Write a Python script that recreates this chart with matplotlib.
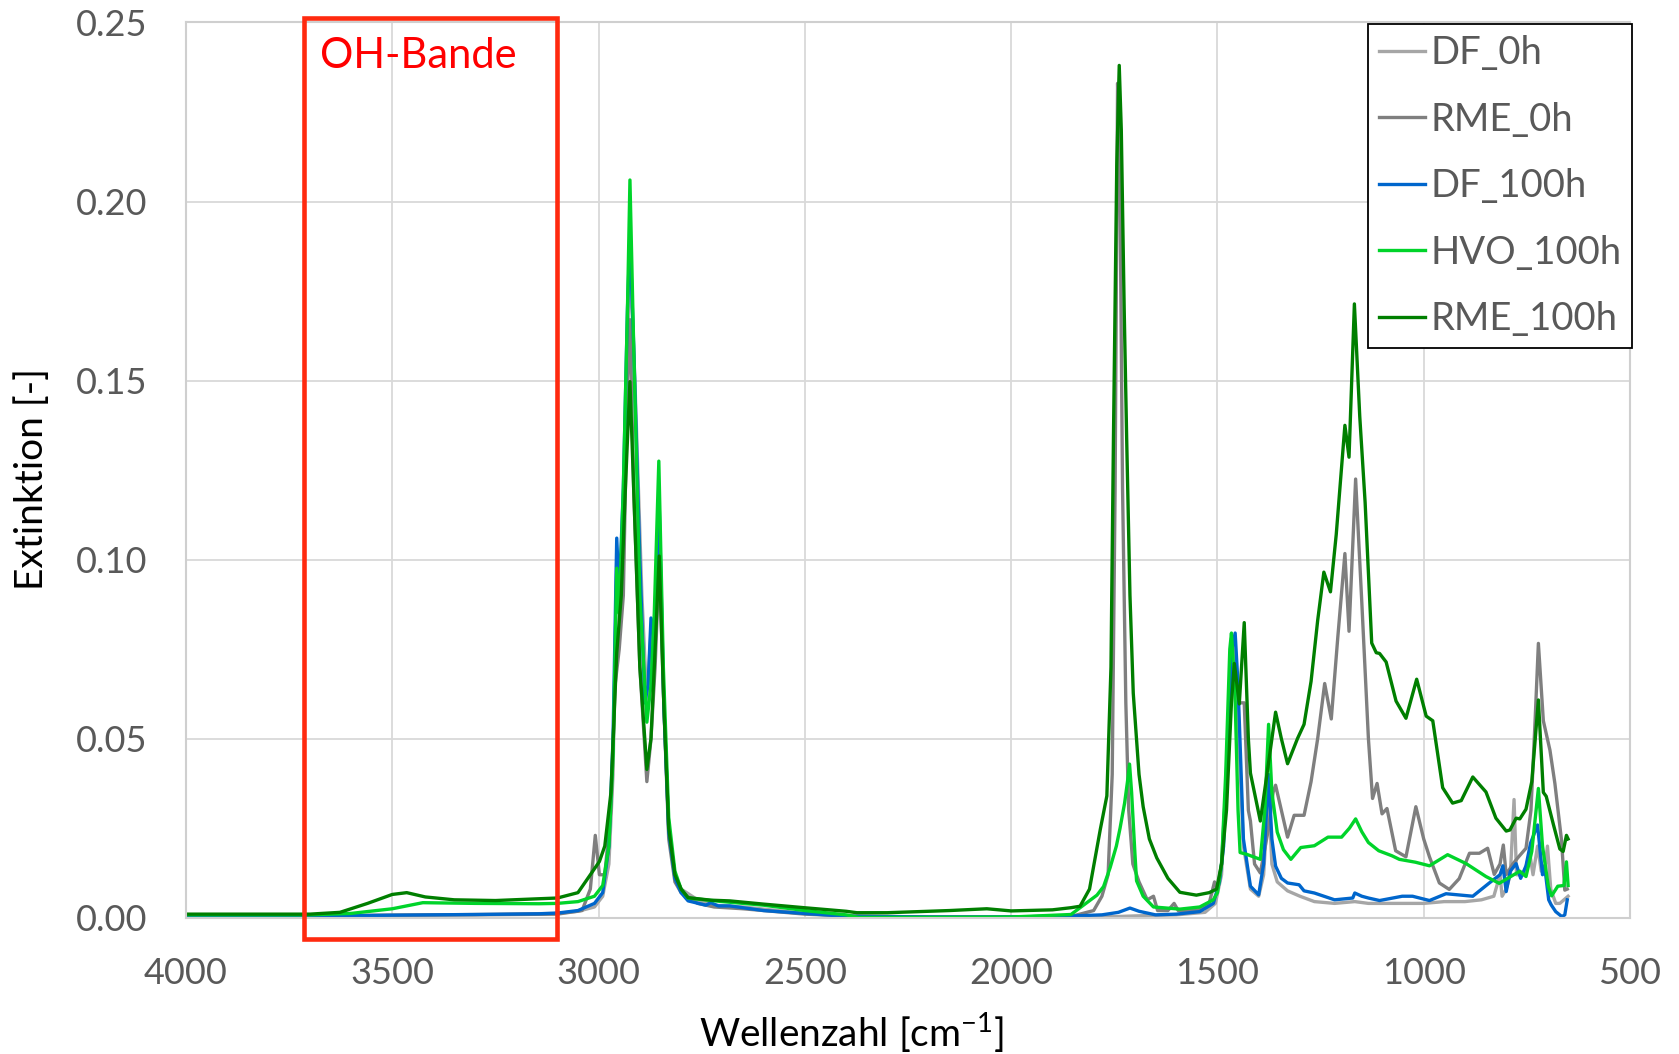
import matplotlib
matplotlib.use("Agg")
import matplotlib.pyplot as plt
from matplotlib.patches import Rectangle

plt.rcParams['font.family'] = ['Lato', 'DejaVu Sans']
plt.rcParams['mathtext.fontset'] = 'custom'
plt.rcParams['mathtext.rm'] = 'Lato'

# spectra: wavenumber [cm-1] and extinction [-]
df0_wn = [4000, 3700, 3500, 3300, 3100, 3050, 3010, 2990, 2975, 2965, 2956, 2948, 2938, 2924, 2912,
          2895, 2883, 2873, 2866, 2853, 2842, 2830, 2815, 2800, 2760, 2720, 2650, 2500, 2400, 2200,
          2000, 1850, 1750, 1700, 1600, 1530, 1505, 1490, 1478, 1466, 1458, 1448, 1437, 1420, 1400,
          1388, 1376, 1368, 1355, 1330, 1300, 1265, 1216, 1167, 1134, 1052, 1000, 950, 900, 860,
          830, 815, 810, 800, 790, 781, 775, 760, 755, 743, 735, 724, 715, 705, 700, 692, 680,
          670, 660, 650]
df0_val = [0.0005, 0.0005, 0.0007, 0.0009, 0.0012, 0.0018, 0.003, 0.006, 0.015, 0.04, 0.100, 0.085,
           0.12, 0.185, 0.15, 0.09, 0.06, 0.08, 0.07, 0.11, 0.06, 0.025, 0.012, 0.008, 0.005, 0.0035,
           0.003, 0.0012, 0.0005, 0.0002, 0.0002, 0.0003, 0.0003, 0.0005, 0.0008, 0.0015, 0.004,
           0.012, 0.04, 0.078, 0.075, 0.05, 0.02, 0.008, 0.006, 0.012, 0.035, 0.015, 0.01, 0.0075,
           0.006, 0.0045, 0.004, 0.0045, 0.004, 0.004, 0.004, 0.0045, 0.0045, 0.005, 0.006, 0.012,
           0.006, 0.008, 0.012, 0.033, 0.012, 0.012, 0.013, 0.018, 0.012, 0.02, 0.013, 0.015, 0.02,
           0.008, 0.004, 0.004, 0.005, 0.006]

rme0_wn = [4000, 3700, 3500, 3300, 3100, 3040, 3020, 3008, 2998, 2985, 2970, 2960, 2950, 2940, 2930,
           2924, 2915, 2900, 2883, 2873, 2863, 2853, 2842, 2830, 2815, 2800, 2760, 2720, 2650, 2500,
           2400, 2200, 2000, 1850, 1800, 1780, 1765, 1755, 1748, 1742, 1736, 1730, 1722, 1715, 1705,
           1690, 1670, 1655, 1645, 1620, 1605, 1595, 1550, 1520, 1507, 1500, 1490, 1478, 1466, 1457,
           1447, 1435, 1425, 1420, 1410, 1396, 1376, 1365, 1359, 1345, 1330, 1314, 1290, 1273, 1257,
           1240, 1224, 1208, 1191, 1181, 1165, 1150, 1134, 1124, 1113, 1101, 1089, 1068, 1043, 1019,
           1000, 986, 962, 938, 914, 889, 865, 845, 829, 815, 807, 800, 784, 770, 752, 740, 730, 722,
           710, 694, 682, 666, 658, 652]
rme0_val = [0.0005, 0.0005, 0.0007, 0.0008, 0.001, 0.002, 0.008, 0.023, 0.012, 0.012, 0.03, 0.065,
            0.075, 0.09, 0.15, 0.167, 0.12, 0.07, 0.038, 0.05, 0.07, 0.10, 0.06, 0.022, 0.01, 0.007,
            0.004, 0.003, 0.0025, 0.001, 0.0005, 0.0002, 0.0002, 0.0005, 0.002, 0.006, 0.012, 0.04,
            0.12, 0.233, 0.2, 0.12, 0.06, 0.03, 0.015, 0.01, 0.005, 0.006, 0.002, 0.002, 0.004, 0.002,
            0.002, 0.004, 0.01, 0.008, 0.015, 0.04, 0.065, 0.07, 0.06, 0.06, 0.03, 0.027, 0.015,
            0.0125, 0.025, 0.035, 0.037, 0.03, 0.0225, 0.0286, 0.0286, 0.038, 0.05, 0.0654, 0.0555,
            0.0786, 0.1017, 0.08, 0.1225, 0.088, 0.05, 0.0333, 0.0375, 0.029, 0.0305, 0.0187, 0.017,
            0.031, 0.022, 0.017, 0.0097, 0.0079, 0.0109, 0.018, 0.018, 0.0194, 0.0121, 0.015, 0.0203,
            0.012, 0.015, 0.017, 0.0194, 0.03, 0.055, 0.0766, 0.055, 0.0468, 0.0375, 0.0217, 0.0077,
            0.008]

df100_wn = [4000, 3700, 3500, 3300, 3144, 3100, 3050, 3010, 2990, 2975, 2965, 2956, 2950, 2940, 2930,
            2924, 2915, 2900, 2888, 2880, 2873, 2865, 2853, 2842, 2830, 2815, 2800, 2783, 2740, 2728,
            2710, 2682, 2600, 2502, 2400, 2200, 2000, 1850, 1780, 1740, 1712, 1690, 1650, 1600, 1543,
            1510, 1495, 1485, 1475, 1465, 1457, 1450, 1437, 1420, 1400, 1388, 1376, 1368, 1359, 1345,
            1330, 1302, 1290, 1265, 1216, 1172, 1167, 1150, 1134, 1107, 1052, 1027, 986, 946, 881, 841,
            815, 808, 800, 790, 776, 765, 752, 741, 724, 712, 707, 697, 691, 680, 665, 658, 652]
df100_val = [0.0003, 0.0004, 0.0007, 0.0009, 0.0011, 0.0013, 0.002, 0.004, 0.007, 0.02, 0.05, 0.106,
             0.09, 0.12, 0.17, 0.19, 0.16, 0.1, 0.06, 0.065, 0.0837, 0.08, 0.115, 0.06, 0.024, 0.011,
             0.007, 0.0047, 0.0035, 0.0042, 0.0033, 0.0033, 0.002, 0.0012, 0.0004, 0.0002, 0.0002,
             0.0005, 0.0008, 0.0015, 0.0027, 0.0018, 0.0008, 0.001, 0.0017, 0.004, 0.01, 0.02, 0.05,
             0.075, 0.0795, 0.065, 0.022, 0.0088, 0.0064, 0.015, 0.04, 0.022, 0.0144, 0.011, 0.0097,
             0.0092, 0.0075, 0.0069, 0.005, 0.0055, 0.0069, 0.006, 0.0055, 0.0048, 0.006, 0.006, 0.0048,
             0.0067, 0.006, 0.0097, 0.012, 0.0145, 0.0073, 0.013, 0.0151, 0.011, 0.0145, 0.0208, 0.0259,
             0.012, 0.0145, 0.005, 0.0036, 0.0017, 0.0003, 0.0008, 0.005]

hvo_wn = [4000, 3700, 3600, 3500, 3426, 3300, 3144, 3100, 3050, 3010, 2990, 2975, 2965, 2956, 2950,
          2940, 2930, 2924, 2915, 2900, 2883, 2873, 2865, 2854, 2843, 2830, 2815, 2800, 2783, 2700,
          2600, 2500, 2400, 2370, 2200, 2000, 1855, 1792, 1776, 1760, 1745, 1736, 1725, 1718, 1713,
          1708, 1700, 1696, 1680, 1655, 1591, 1543, 1510, 1500, 1490, 1480, 1470, 1466, 1458, 1450,
          1445, 1429, 1396, 1385, 1376, 1368, 1355, 1340, 1322, 1298, 1265, 1232, 1199, 1180, 1165,
          1150, 1134, 1109, 1077, 1059, 1020, 986, 942, 897, 849, 817, 767, 752, 738, 722, 712, 698,
          690, 675, 660, 654, 650]
hvo_val = [0.0008, 0.0008, 0.0012, 0.0025, 0.0042, 0.0040, 0.0039, 0.004, 0.0045, 0.006, 0.009, 0.02,
           0.045, 0.0976, 0.085, 0.12, 0.17, 0.206, 0.16, 0.09, 0.0546, 0.065, 0.085, 0.1275, 0.07,
           0.028, 0.013, 0.008, 0.0055, 0.0045, 0.0035, 0.002, 0.0008, 0.0001, 0.0001, 0.0002, 0.0009,
           0.0063, 0.0087, 0.014, 0.02, 0.025, 0.032, 0.038, 0.0429, 0.035, 0.018, 0.0103, 0.006,
           0.003, 0.0024, 0.003, 0.005, 0.007, 0.015, 0.04, 0.075, 0.0795, 0.065, 0.03, 0.0182,
           0.0177, 0.0163, 0.03, 0.054, 0.035, 0.0239, 0.019, 0.0163, 0.0196, 0.0201, 0.0225, 0.0225,
           0.025, 0.0276, 0.024, 0.021, 0.0187, 0.0173, 0.0163, 0.0155, 0.0145, 0.0176, 0.0151,
           0.0115, 0.0096, 0.013, 0.0115, 0.0185, 0.0361, 0.02, 0.0088, 0.0061, 0.0088, 0.009, 0.0156,
           0.009]

rme100_wn = [4000, 3800, 3700, 3627, 3560, 3500, 3465, 3420, 3350, 3250, 3144, 3100, 3050, 3020, 2998,
             2985, 2970, 2956, 2945, 2935, 2924, 2915, 2900, 2883, 2873, 2863, 2853, 2842, 2830, 2815,
             2800, 2783, 2728, 2682, 2600, 2502, 2400, 2374, 2300, 2150, 2059, 2000, 1900, 1855, 1833,
             1810, 1784, 1768, 1758, 1752, 1744, 1738, 1733, 1726, 1720, 1712, 1704, 1690, 1680, 1665,
             1647, 1620, 1591, 1551, 1520, 1502, 1490, 1478, 1466, 1459, 1447, 1435, 1425, 1420, 1396,
             1380, 1359, 1345, 1330, 1306, 1290, 1273, 1257, 1242, 1226, 1212, 1191, 1181, 1168, 1155,
             1142, 1126, 1115, 1107, 1091, 1067, 1043, 1017, 994, 978, 954, 930, 909, 881, 849, 825,
             800, 791, 776, 767, 752, 738, 722, 710, 703, 686, 670, 662, 654, 650]
rme100_val = [0.0010, 0.0010, 0.0010, 0.0015, 0.004, 0.0065, 0.007, 0.0058, 0.005, 0.0048, 0.0053,
              0.0055, 0.007, 0.012, 0.0157, 0.02, 0.035, 0.074, 0.09, 0.12, 0.1497, 0.12, 0.07, 0.0414,
              0.05, 0.075, 0.101, 0.06, 0.025, 0.012, 0.008, 0.0056, 0.0049, 0.0047, 0.0038, 0.0028,
              0.0018, 0.0014, 0.0014, 0.002, 0.0025, 0.0019, 0.0022, 0.0028, 0.0032, 0.008, 0.0246,
              0.034, 0.07, 0.134, 0.21, 0.238, 0.22, 0.17, 0.134, 0.09, 0.0627, 0.04, 0.031, 0.022,
              0.0167, 0.011, 0.0071, 0.0063, 0.007, 0.008, 0.015, 0.03, 0.06, 0.071, 0.0597, 0.0824,
              0.05, 0.0404, 0.027, 0.04, 0.0574, 0.05, 0.043, 0.050, 0.054, 0.066, 0.083, 0.0965, 0.091,
              0.107, 0.1375, 0.1286, 0.1714, 0.14, 0.116, 0.0767, 0.074, 0.0738, 0.0714, 0.0605, 0.0557,
              0.0666, 0.0563, 0.055, 0.0363, 0.032, 0.0327, 0.0393, 0.0351, 0.0278, 0.0242, 0.0245,
              0.0278, 0.0276, 0.0303, 0.038, 0.0608, 0.035, 0.0339, 0.0262, 0.0192, 0.0185, 0.023, 0.022]

series = [
    ('DF_0h', df0_wn, df0_val, '#A6A6A6'),
    ('RME_0h', rme0_wn, rme0_val, '#7F7F7F'),
    ('DF_100h', df100_wn, df100_val, '#0066CC'),
    ('HVO_100h', hvo_wn, hvo_val, '#00D42A'),
    ('RME_100h', rme100_wn, rme100_val, '#007F00'),
]

x_ticks = [4000, 3500, 3000, 2500, 2000, 1500, 1000, 500]
y_ticks = [0.00, 0.05, 0.10, 0.15, 0.20, 0.25]

fig = plt.figure(figsize=(16.79, 10.54), dpi=100)
ax = fig.add_axes([0.1108, 0.1293, 0.86, 0.8494])

for name, wn, val, col in series:
    ax.plot(wn, val, color=col, lw=2.4, label=name)

ax.set_xlim(4000, 500)
ax.set_ylim(0, 0.25)
ax.set_xticks(x_ticks)
ax.set_yticks(y_ticks)
ax.set_yticklabels(['%.2f' % v for v in y_ticks])
ax.grid(True, color='#D9D9D9', lw=1.3)
ax.set_axisbelow(True)
for s in ax.spines.values():
    s.set_color('#CFCFCF')
    s.set_linewidth(1.5)
ax.tick_params(length=0, labelsize=26, colors='#595959', pad=28)

# OH band marker
box = Rectangle((3715, -0.006), 3100 - 3715, 0.2572, fill=False,
                edgecolor='#FF2A0F', lw=3.3, clip_on=False, zorder=5)
ax.add_patch(box)
ax.text(3675, 0.2405, 'OH-Bande', color='#FF0000', fontsize=30, ha='left', va='center')

leg = ax.legend(loc='upper right', bbox_to_anchor=(1.003, 1.0), fontsize=27.5, frameon=True,
                fancybox=False, framealpha=1, edgecolor='black', borderaxespad=0.05,
                handlelength=1.2, handletextpad=0.15, labelspacing=0.8, borderpad=0.28)
leg.get_frame().set_linewidth(1.3)
for t in leg.get_texts():
    t.set_color('#595959')

fig.text(851 / 1679, 1 - 1033 / 1054, r'Wellenzahl [cm$^{\mathregular{-1}}$]', fontsize=28,
         ha='center', va='center')
fig.text(32 / 1679, 1 - 479 / 1054, 'Extinktion [-]', fontsize=28, rotation=90,
         ha='center', va='center')

fig.savefig('out.png', dpi=100)
